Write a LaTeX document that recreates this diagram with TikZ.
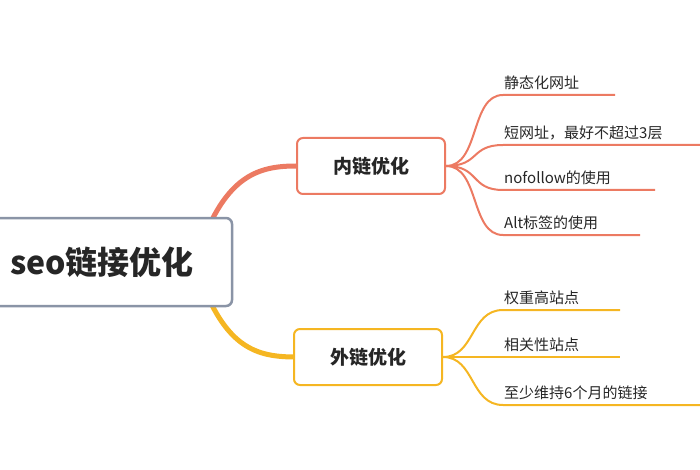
\documentclass[tikz,border=0pt]{standalone}
\usepackage{fontspec}
\setmainfont{Noto Sans CJK SC}
\begin{document}
\begin{tikzpicture}[x=1pt,y=-1pt,
 rootbox/.style={draw=rtc,line width=2.5pt,rounded corners=6pt,fill=white,minimum width=260pt,minimum height=88pt,font=\fontsize{32}{34}\selectfont\bfseries,text=black!85},
 midbox/.style={line width=2pt,rounded corners=6pt,fill=white,minimum width=148pt,minimum height=56pt,font=\fontsize{19}{22}\selectfont\bfseries,text=black!85},
 leaf/.style={anchor=south west,font=\fontsize{15}{17}\selectfont,text=black!85,inner xsep=1pt,inner ysep=5pt}]
\definecolor{rd}{HTML}{EC7A62}
\definecolor{yl}{HTML}{F5B622}
\definecolor{rtc}{HTML}{8A94A6}
\useasboundingbox (0,0) rectangle (700,470);
\draw[rd,line width=5pt] (205,235) .. controls (230,175) and (260,166) .. (296,166);
\draw[yl,line width=5pt] (205,290) .. controls (230,350) and (260,357) .. (296,357);
\node[rootbox] (root) at (102,262) {seo链接优化};
\node[midbox,draw=rd] (in) at (371,166) {内链优化};
\node[midbox,draw=yl] (out) at (368,357) {外链优化};
\foreach \y/\e/\t [count=\i] in {95/615/静态化网址,145/700/{短网址，最好不超过3层},190/655/nofollow的使用,235/640/Alt标签的使用}{
 \coordinate (a\i) at (503,\y); \coordinate (b\i) at (\e,\y);
 \draw[rd,line width=2pt] (in.east) .. controls (480,166) and (470,\y) .. (a\i) -- (b\i);
 \node[leaf] (t\i) at (a\i) {\t};
}
\foreach \y/\e/\t [count=\i] in {310/620/权重高站点,357/620/相关性站点,405/700/至少维持6个月的链接}{
 \coordinate (c\i) at (503,\y); \coordinate (d\i) at (\e,\y);
 \draw[yl,line width=2pt] (out.east) .. controls (475,357) and (470,\y) .. (c\i) -- (d\i);
 \node[leaf] (u\i) at (c\i) {\t};
}
\end{tikzpicture}
\end{document}
